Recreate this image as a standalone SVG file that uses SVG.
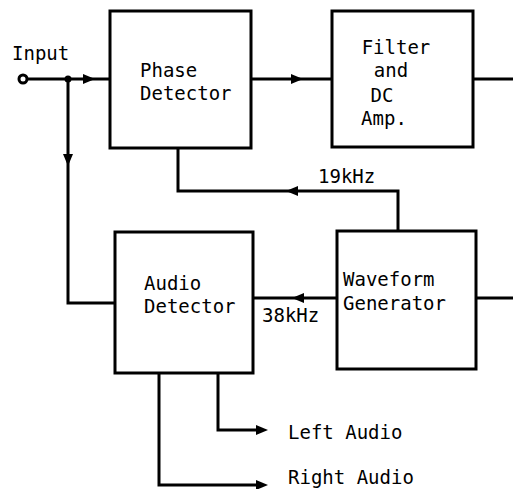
<svg xmlns="http://www.w3.org/2000/svg" width="513" height="489" viewBox="0 0 513 489">
<style>
.box{fill:none;stroke:#000;stroke-width:3}
.ln{fill:none;stroke:#000;stroke-width:3}
text{font-family:"DejaVu Sans Mono","Liberation Mono",monospace;font-size:19px;fill:#000}
.ah{fill:#000}
</style>
<defs>
<path id="arR" d="M-6,-5 L6,0 L-6,5 Z"/>
</defs>
<rect width="513" height="489" fill="#fff"/>
<g id="connectors">
<path class="ln" d="M27,79 H110"/>
<path class="ln" d="M68,79 V303 H115"/>
<path class="ln" d="M251,79 H332"/>
<path class="ln" d="M473,79 H513"/>
<path class="ln" d="M178,148 V191 H398 V231"/>
<path class="ln" d="M337,298 H253"/>
<path class="ln" d="M476,298 H513"/>
<path class="ln" d="M218,373 V430 H262"/>
<path class="ln" d="M159,373 V485 H262"/>
<circle cx="23" cy="79" r="4" fill="#fff" stroke="#000" stroke-width="3"/>
<circle cx="68" cy="79" r="3.5" fill="#000"/>
<use href="#arR" class="ah" transform="translate(89,79)"/>
<use href="#arR" class="ah" transform="translate(297,79)"/>
<use href="#arR" class="ah" transform="translate(68,160) rotate(90)"/>
<use href="#arR" class="ah" transform="translate(292,191) rotate(180)"/>
<use href="#arR" class="ah" transform="translate(298,298) rotate(180)"/>
<use href="#arR" class="ah" transform="translate(262,430)"/>
<use href="#arR" class="ah" transform="translate(262,485)"/>
<text x="318" y="183">19kHz</text>
<text x="262" y="322">38kHz</text>
</g>
<g id="input">
<text x="12" y="60" font-size="18">Input</text>
</g>
<g id="phase-detector">
<rect class="box" x="110" y="11" width="141" height="137"/>
<text x="140" y="77">Phase</text>
<text x="140" y="100">Detector</text>
</g>
<g id="filter">
<rect class="box" x="332" y="11" width="141" height="136"/>
<text x="396" y="54" text-anchor="middle">Filter</text>
<text x="391" y="77" text-anchor="middle">and</text>
<text x="382" y="102" text-anchor="middle">DC</text>
<text x="384" y="125" text-anchor="middle">Amp.</text>
</g>
<g id="audio-detector">
<rect class="box" x="115" y="232" width="138" height="141"/>
<text x="144" y="290">Audio</text>
<text x="144" y="313">Detector</text>
</g>
<g id="waveform-generator">
<rect class="box" x="337" y="231" width="139" height="138"/>
<text x="343" y="286">Waveform</text>
<text x="343" y="310">Generator</text>
</g>
<g id="outputs">
<text x="288" y="439">Left Audio</text>
<text x="288" y="484">Right Audio</text>
</g>
</svg>
